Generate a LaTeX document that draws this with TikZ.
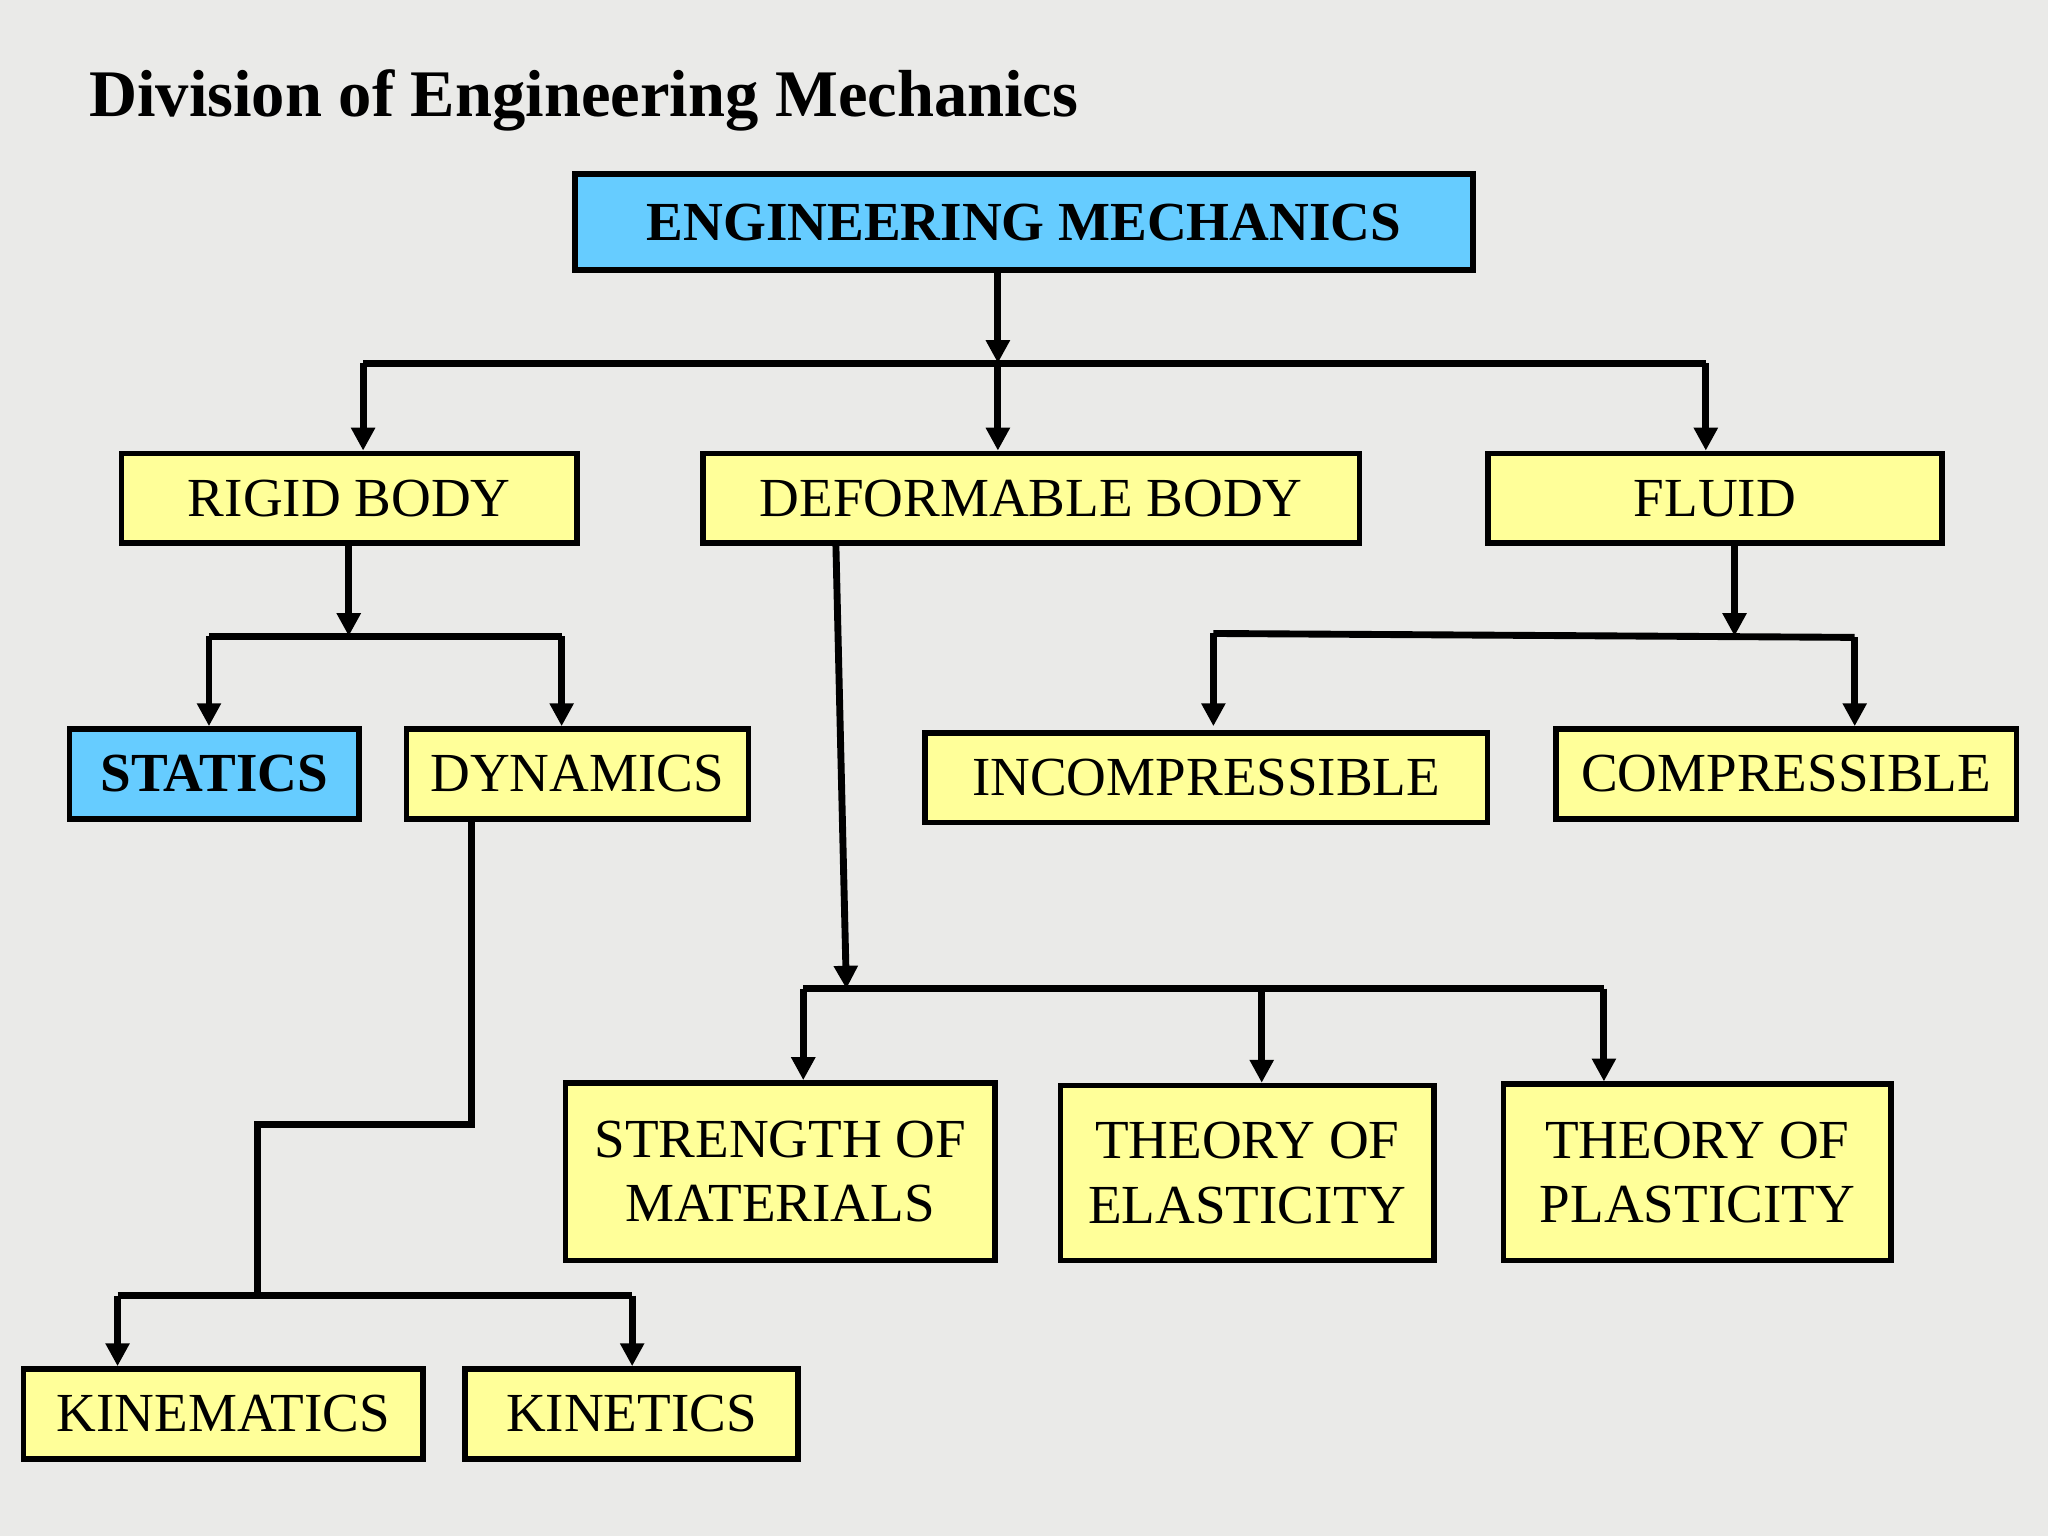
\documentclass[tikz,border=0pt]{standalone}
\usepackage{fontspec}
\setmainfont{Liberation Serif}
\usetikzlibrary{arrows.meta}
\definecolor{bg}{RGB}{234,234,232}
\definecolor{yel}{RGB}{255,255,153}
\definecolor{blu}{RGB}{102,204,255}
\begin{document}
\begin{tikzpicture}[x=0.02cm,y=-0.02cm,
  box/.style={draw=black,line width=2.4pt,fill=yel,inner sep=0pt,font=\fontsize{24}{28}\selectfont,align=center},
  bbox/.style={box,fill=blu,font=\fontsize{24}{28}\selectfont\bfseries},
  ln/.style={line width=3pt,black},
  ar/.style={ln,-{Triangle[length=10pt,width=10pt]}}]
\fill[bg] (0,0) rectangle (1568,1176);
\useasboundingbox (0,0) rectangle (1568,1176);
\node[anchor=west,inner sep=0pt,font=\fontsize{29}{34}\selectfont\bfseries] (title) at (68,77) {Division of Engineering Mechanics};
\newcommand{\bx}[7]{\node[#1,minimum width=#4*0.02cm-2.4pt,minimum height=#6*0.02cm-2.4pt] (#2) at (#3+#4/2,#5+#6/2) {#7};}
\bx{bbox}{em}{438}{692}{131}{78}{ENGINEERING MECHANICS}
\bx{box}{rigid}{91}{353}{345}{73}{RIGID BODY}
\bx{box}{deform}{536}{507}{345}{73}{DEFORMABLE BODY}
\bx{box}{fluid}{1137}{352}{345}{73}{FLUID}
\bx{bbox}{statics}{51}{226}{556}{73}{STATICS}
\bx{box}{dyn}{309}{266}{556}{73}{DYNAMICS}
\bx{box}{incomp}{706}{435}{559}{73}{INCOMPRESSIBLE}
\bx{box}{comp}{1189}{357}{556}{73}{COMPRESSIBLE}
\bx{box}{strength}{431}{333}{827}{140}{STRENGTH OF\\MATERIALS}
\bx{box}{elast}{810}{290}{829}{138}{THEORY OF\\ELASTICITY}
\bx{box}{plast}{1149}{301}{828}{139}{THEORY OF\\PLASTICITY}
\bx{box}{kinem}{16}{310}{1046}{73}{KINEMATICS}
\bx{box}{kinet}{354}{259}{1046}{73}{KINETICS}
% top level
\coordinate (j1) at (764,278);
\draw[ar] (em.south -| j1) -- (j1);
\draw[ln] (278,278) -- (1306,278);
\draw[ar] (278,278) -- (rigid.north -| 278,0);
\draw[ar] (j1) -- (deform.north -| j1);
\draw[ar] (1306,278) -- (fluid.north -| 1306,0);
% rigid
\coordinate (j2) at (267,487);
\draw[ar] (rigid.south -| j2) -- (j2);
\draw[ln] (160,487) -- (430,487);
\draw[ar] (160,487) -- (statics.north -| 160,0);
\draw[ar] (430,487) -- (dyn.north -| 430,0);
% fluid
\coordinate (j3) at (1328,487);
\draw[ar] (fluid.south -| j3) -- (j3);
\draw[ln] (929,485) -- (1420,488);
\draw[ar] (929,485) -- (929,556);
\draw[ar] (1420,488) -- (1420,556);
% deformable
\coordinate (j4) at (648,757);
\draw[ar] (640,418) -- (j4);
\draw[ln] (615,757) -- (1228,757);
\draw[ar] (615,757) -- (strength.north -| 615,0);
\draw[ar] (966,757) -- (elast.north -| 966,0);
\draw[ar] (1228,757) -- (plast.north -| 1228,0);
% dynamics
\coordinate (j5) at (197,992);
\draw[ln] (dyn.south -| 361,0) -- (361,861) -- (197,861) -- (j5);
\draw[ln] (90,992) -- (484,992);
\draw[ar] (90,992) -- (kinem.north -| 90,0);
\draw[ar] (484,992) -- (kinet.north -| 484,0);
\end{tikzpicture}
\end{document}
